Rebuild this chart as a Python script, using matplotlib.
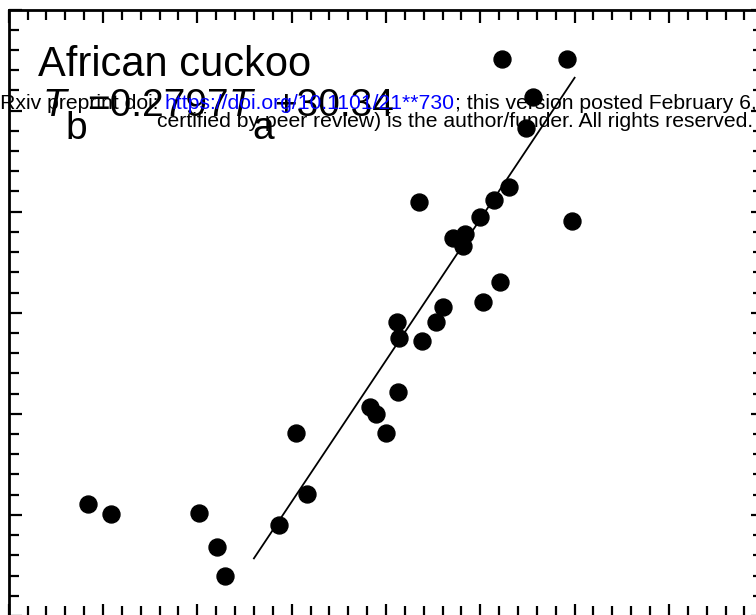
import matplotlib.pyplot as plt
import numpy as np
from matplotlib.ticker import MultipleLocator

plt.rcParams['font.family'] = ['Liberation Sans', 'DejaVu Sans']

# air temperature (x) and body temperature (y)
ta = [24.20, 25.42, 30.09, 31.04, 31.47, 34.33, 35.81, 35.23, 39.15, 39.47,
      40.00, 40.64, 40.58, 40.69, 41.91, 42.65, 43.02, 45.14, 46.04, 41.75,
      43.55, 44.19, 44.08, 44.98, 45.72, 46.52, 47.42, 47.79, 46.15, 49.59,
      49.86]
tb = [40.11, 40.01, 40.02, 39.68, 39.40, 39.90, 40.21, 40.81, 41.07, 41.00,
      40.81, 41.22, 41.91, 41.75, 41.72, 41.91, 42.06, 42.11, 42.30, 43.10,
      42.74, 42.78, 42.66, 42.95, 43.12, 43.24, 43.83, 44.13, 44.51, 44.51,
      42.91]
slope, intercept = 0.2797, 30.34
fit_range = [33.0, 50.0]
species = 'African cuckoo'

W, H = 756, 615
fig = plt.figure(figsize=(W / 100, H / 100), dpi=100)
ax = fig.add_axes([8.67 / W, (H - 616) / H, 754.6 / W, 606.5 / H])

ax.plot(ta, tb, 'o', color='black', markersize=12.2, zorder=3)
fx = np.array(fit_range)
ax.plot(fx, slope * fx + intercept, color='black', lw=1.3)

ax.set_xlim(20, 60)
ax.set_ylim(39, 45)
ax.xaxis.set_major_locator(MultipleLocator(5))
ax.xaxis.set_minor_locator(MultipleLocator(1))
ax.yaxis.set_major_locator(MultipleLocator(1))
ax.yaxis.set_minor_locator(MultipleLocator(0.2))
ax.tick_params(which='both', direction='in', top=True, right=True,
               labelbottom=False, labelleft=False, width=1.6)
ax.tick_params(which='major', length=9)
ax.tick_params(which='minor', length=7)
for s in ax.spines.values():
    s.set_linewidth(2)

def px(x, y):
    return x / W, 1 - y / H

fig.text(*px(38, 76), species, fontsize=30, ha='left', va='baseline')

# equation with full size subscripts
sub = 16.5
parts = [('T', 'italic', 0), ('b', 'normal', -sub), ('=0.2797', 'normal', sub),
         ('T', 'italic', 0), ('a', 'normal', -sub), ('+30.34', 'normal', sub)]
prev = fig.text(*px(42, 116), parts[0][0], fontsize=28, style='italic',
                va='baseline')
for txt, st, dy in parts[1:]:
    prev = ax.annotate(txt, xy=(1, 0), xycoords=prev, xytext=(0, dy),
                       textcoords='offset points', fontsize=28, style=st,
                       va='bottom', annotation_clip=False)

# watermark overlay
wm = [('bioRxiv preprint doi: ', 'black'),
      ('https://doi.org/10.1101/21**730', 'blue'),
      ('; this version posted February 6, 2018.', 'black')]
prev = fig.text(*px(-27.6, 109), wm[0][0], fontsize=15.2, color=wm[0][1],
                va='baseline')
for txt, c in wm[1:]:
    prev = ax.annotate(txt, xy=(1, 0), xycoords=prev, fontsize=15.2, color=c,
                       va='bottom', annotation_clip=False)
fig.text(*px(157, 127), 'certified by peer review) is the author/funder. '
         'All rights reserved.', fontsize=15.2, va='baseline')

fig.savefig('out.png', dpi=100)
